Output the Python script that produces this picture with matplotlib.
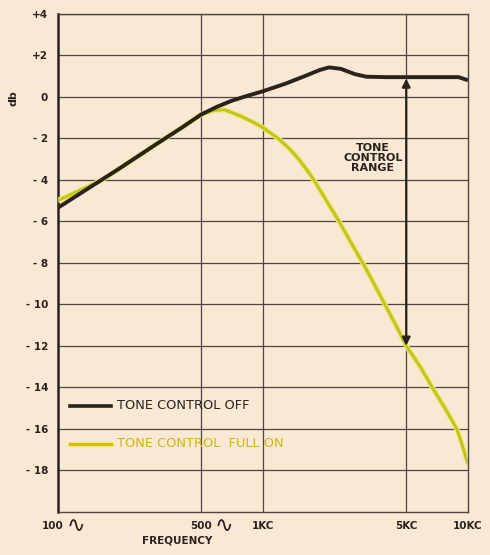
import numpy as np
import matplotlib.pyplot as plt

# frequency response, read in Hz and dB
freq_off = [100, 200, 300, 400, 500, 600, 700, 820, 1000, 1300, 1600, 1900,
            2100, 2400, 2800, 3200, 4000, 5000, 7000, 9000, 10000]
db_off = [-5.35, -3.45, -2.3, -1.5, -0.85, -0.47, -0.2, 0.02, 0.27, 0.65, 1.0,
          1.3, 1.42, 1.35, 1.1, 0.97, 0.95, 0.95, 0.95, 0.95, 0.8]

freq_on = [100, 165, 200, 300, 400, 500, 580, 650, 785, 900, 1000, 1185, 1347,
           1495, 1634, 1770, 2040, 2350, 2680, 3065, 3480, 3930, 4450, 5000,
           5845, 6690, 7715, 8815, 9250, 9650, 10000]
db_on = [-5.0, -4.0, -3.45, -2.3, -1.5, -0.85, -0.65, -0.62, -0.94, -1.23, -1.48,
         -2.0, -2.5, -3.0, -3.5, -4.0, -5.0, -6.0, -7.0, -8.0, -9.0, -10.0,
         -11.0, -12.0, -13.0, -14.0, -15.0, -16.0, -16.6, -17.2, -17.7]

range_freq = 5000
range_top = 0.95
range_bottom = -12.0

xtick_pos = [100, 500, 1000, 5000, 10000]
xtick_num = ['100', '500', '1KC', '5KC', '10KC']
xtick_wave = [True, True, False, False, False]
ytick_pos = list(range(-18, 5, 2))
ytick_lab = ['+%d' % v if v > 0 else ('0' if v == 0 else '- %d' % -v) for v in ytick_pos]

bg = '#f9e8d3'
ink = '#2b221b'
grid_c = '#4d4640'
yel = '#c4c41c'
yel_glow = '#ecec7a'
yel_text = '#cdb80c'

fig = plt.figure(figsize=(4.9, 5.55), dpi=100, facecolor=bg)
ax = fig.add_axes([0.118, 0.078, 0.837, 0.897])
ax.set_facecolor(bg)
ax.set_xscale('log')
ax.set_xlim(100, 10000)
ax.set_ylim(-20, 4)

# grid
for f in xtick_pos[1:-1]:
    ax.axvline(f, color=grid_c, lw=0.9, zorder=1)
for v in ytick_pos:
    ax.axhline(v, color=grid_c, lw=0.9, zorder=1)
for s in ax.spines.values():
    s.set_color(grid_c)
    s.set_linewidth(1.0)
ax.spines['left'].set_linewidth(1.8)
ax.spines['left'].set_color(ink)

ax.set_xticks([])
ax.minorticks_off()
ax.set_xticks([], minor=True)
ax.set_yticks(ytick_pos)
ax.set_yticklabels(ytick_lab, fontsize=7.5, fontweight='bold', color=ink)
ax.tick_params(axis='y', length=0, pad=7)

# curves
ax.plot(freq_on, db_on, color=yel_glow, lw=3.8, solid_capstyle='butt', zorder=3)
ax.plot(freq_on, db_on, color=yel, lw=2.2, solid_capstyle='butt', zorder=4)
ax.plot(freq_off, db_off, color=ink, lw=2.8, solid_capstyle='butt', zorder=5)

# range arrow
ax.annotate('', xy=(range_freq, range_bottom), xytext=(range_freq, range_top),
            arrowprops=dict(arrowstyle='<|-|>', color=ink, lw=1.6,
                            mutation_scale=12, shrinkA=1, shrinkB=0), zorder=6)
ax.text(4800, -2.95, 'TONE\nCONTROL\nRANGE', ha='right', va='center',
        multialignment='center', fontsize=8, fontweight='bold', color=ink,
        linespacing=1.0, zorder=6)

# key
ax.plot([0.03, 0.13], [0.213, 0.213], transform=ax.transAxes, color=ink, lw=2.6, zorder=6)
ax.text(0.145, 0.213, 'TONE CONTROL OFF', transform=ax.transAxes, ha='left',
        va='center', fontsize=9.3, color=ink, zorder=6)
ax.plot([0.03, 0.13], [0.137, 0.137], transform=ax.transAxes, color=yel_glow, lw=3.8, zorder=5)
ax.plot([0.03, 0.13], [0.137, 0.137], transform=ax.transAxes, color='#d4bc10', lw=2.2, zorder=6)
ax.text(0.145, 0.137, 'TONE CONTROL  FULL ON', transform=ax.transAxes, ha='left',
        va='center', fontsize=9.3, color=yel_text, zorder=6)

# frequency labels
for f, num, wave in zip(xtick_pos, xtick_num, xtick_wave):
    dx = -4 if f == 100 else 0
    ax.annotate(num, xy=(f, 0), xycoords=('data', 'axes fraction'),
                xytext=(dx, -10), textcoords='offset points',
                ha='center', va='center', fontsize=7.5, fontweight='bold', color=ink)
    if wave:
        ax.annotate('\u223f', xy=(f, 0), xycoords=('data', 'axes fraction'),
                    xytext=(dx + 10, -10.5), textcoords='offset points',
                    ha='left', va='center', fontsize=16, color=ink)

fig.text(0.361, 0.018, 'FREQUENCY', ha='center', va='bottom', fontsize=7.5,
         fontweight='bold', color=ink)
fig.text(0.027, 0.823, 'db', ha='center', va='center', rotation=90,
         fontsize=8, fontweight='bold', color=ink)

fig.savefig('out.png', dpi=100, facecolor=bg)
